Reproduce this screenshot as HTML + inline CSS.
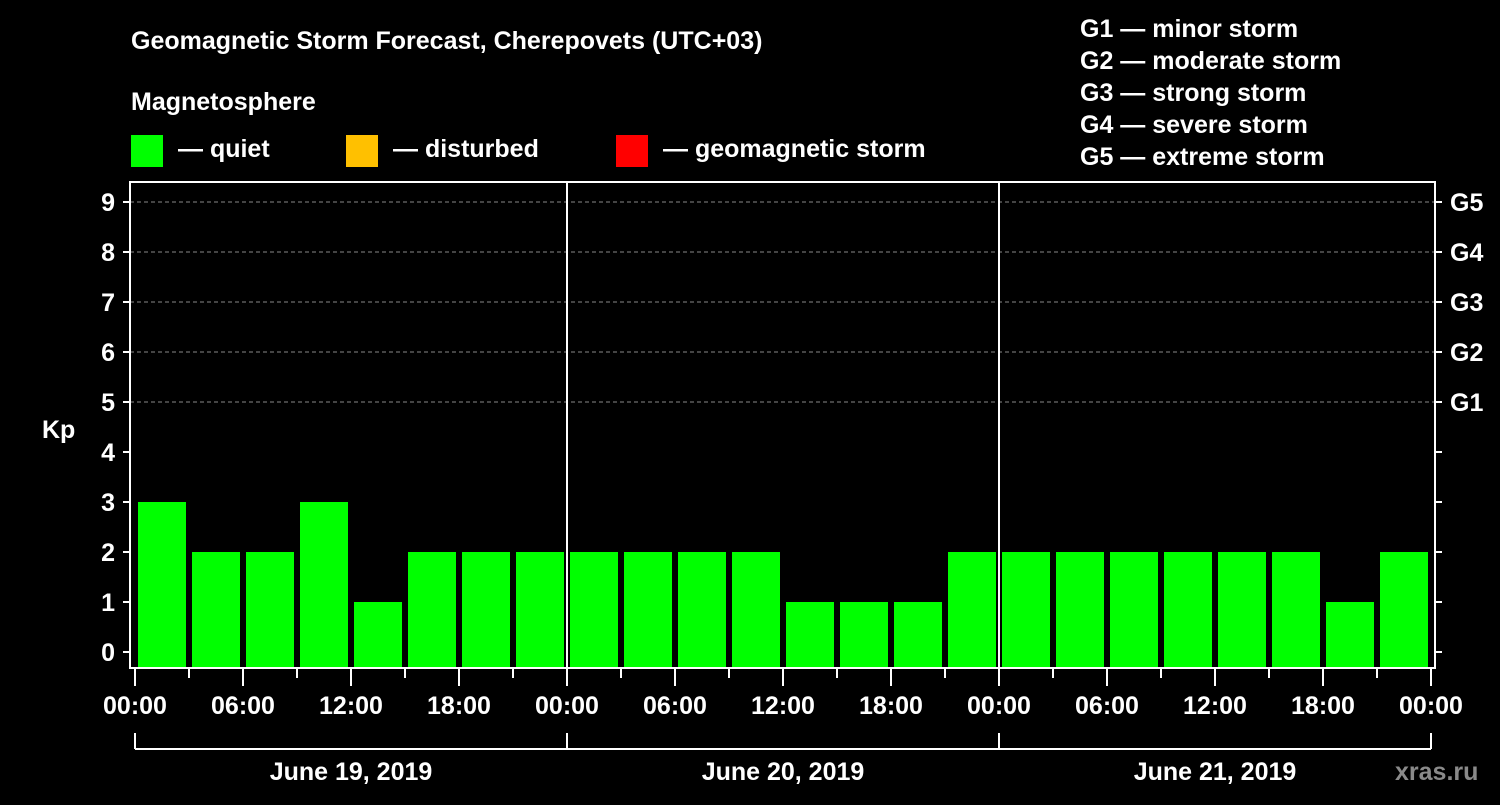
<!DOCTYPE html>
<html><head><meta charset="utf-8">
<style>
html,body{margin:0;padding:0;background:#000;}
body{width:1500px;height:800px;overflow:hidden;font-family:"Liberation Sans",Arial,sans-serif;}
svg text{font-family:"Liberation Sans",Arial,sans-serif;font-weight:bold;fill:#fff;}
</style></head>
<body>
<svg id="chart" width="1500" height="800" xmlns="http://www.w3.org/2000/svg">
<rect width="1500" height="800" fill="#000"/>
<text x="131" y="49" font-size="25">Geomagnetic Storm Forecast, Cherepovets (UTC+03)</text>
<text x="131" y="110" font-size="25">Magnetosphere</text>
<g><rect x="131" y="135" width="32" height="32" fill="#00ff00"/><text x="178" y="157" font-size="25">— quiet</text></g>
<g><rect x="346" y="135" width="32" height="32" fill="#ffc000"/><text x="393" y="157" font-size="25">— disturbed</text></g>
<g><rect x="616" y="135" width="32" height="32" fill="#ff0000"/><text x="663" y="157" font-size="25">— geomagnetic storm</text></g>
<g font-size="25">
<text x="1080" y="37">G1 — minor storm</text>
<text x="1080" y="69">G2 — moderate storm</text>
<text x="1080" y="101">G3 — strong storm</text>
<text x="1080" y="133">G4 — severe storm</text>
<text x="1080" y="165">G5 — extreme storm</text>
</g>
<text x="42" y="438" font-size="25">Kp</text>
<text x="1395" y="780" font-size="25" fill="#888" style="fill:#8a8a8a">xras.ru</text>
<g id="grid"></g><g id="bars"></g><g id="axes"></g>
</svg>
<script>
const kpValues=[3,2,2,3,1,2,2,2, 2,2,2,2,1,1,1,2, 2,2,2,2,2,2,1,2];
const yTicks=[0,1,2,3,4,5,6,7,8,9];
const gLabels=["G1","G2","G3","G4","G5"];
const gLevels=[5,6,7,8,9];
const xTickLabels=["00:00","06:00","12:00","18:00","00:00","06:00","12:00","18:00","00:00","06:00","12:00","18:00","00:00"];
const dayLabels=["June 19, 2019","June 20, 2019","June 21, 2019"];
const NS="http://www.w3.org/2000/svg";
const X0=135,slot=54,Y0=652,unit=50,plotTop=182,plotBot=668,plotL=130,plotR=1435;
const xs=i=>X0+i*slot;
const ys=v=>Y0-v*unit;
function mk(t,a,p){const e=document.createElementNS(NS,t);for(const k in a)e.setAttribute(k,a[k]);p.appendChild(e);return e;}
const grid=document.getElementById('grid'),bars=document.getElementById('bars'),axes=document.getElementById('axes');
gLevels.forEach((v,i)=>{
 const l=mk('line',{x1:plotL,x2:plotR,y1:ys(v),y2:ys(v),stroke:'#888','stroke-dasharray':'4,3','stroke-width':1},grid);
 
 
 const t=mk('text',{x:1450,y:ys(v)+9,'font-size':25},axes);t.textContent=gLabels[i];
 
 
});
kpValues.forEach((v,i)=>{
 const c=v>=5?'#ff0000':(v>=4?'#ffc000':'#00ff00');
 const r=mk('rect',{x:xs(i)+3,y:ys(v),width:48,height:plotBot-ys(v),fill:c},bars);
 
 
});
mk('rect',{x:plotL,y:plotTop,width:plotR-plotL,height:plotBot-plotTop,fill:'none',stroke:'#fff','stroke-width':2},axes);
[1,2].forEach(d=>{mk('line',{x1:xs(d*8),x2:xs(d*8),y1:plotTop,y2:plotBot,stroke:'#fff','stroke-width':2},axes);});
yTicks.forEach(v=>{
 mk('line',{x1:123,x2:plotL,y1:ys(v),y2:ys(v),stroke:'#fff','stroke-width':2},axes);
 mk('line',{x1:plotR,x2:1442,y1:ys(v),y2:ys(v),stroke:'#fff','stroke-width':2},axes);
 const t=mk('text',{x:115,y:ys(v)+9,'font-size':25,'text-anchor':'end'},axes);t.textContent=v;
 
 
});
for(let i=0;i<=24;i++){
 const major=i%2===0;
 mk('line',{x1:xs(i),x2:xs(i),y1:plotBot,y2:major?686:678,stroke:'#fff','stroke-width':2},axes);
 if(major){const t=mk('text',{x:xs(i),y:714,'font-size':25,'text-anchor':'middle'},axes);t.textContent=xTickLabels[i/2];
  
  }
}
mk('line',{x1:xs(0),x2:xs(24),y1:749,y2:749,stroke:'#fff','stroke-width':2},axes);
dayLabels.forEach((d,i)=>{
 mk('line',{x1:xs(i*8),x2:xs(i*8),y1:733,y2:749,stroke:'#fff','stroke-width':2},axes);
 const t=mk('text',{x:xs(i*8+4),y:780,'font-size':25,'text-anchor':'middle'},axes);t.textContent=d;
 
 
});
mk('line',{x1:xs(24),x2:xs(24),y1:733,y2:749,stroke:'#fff','stroke-width':2},axes);
</script>
</body></html>
